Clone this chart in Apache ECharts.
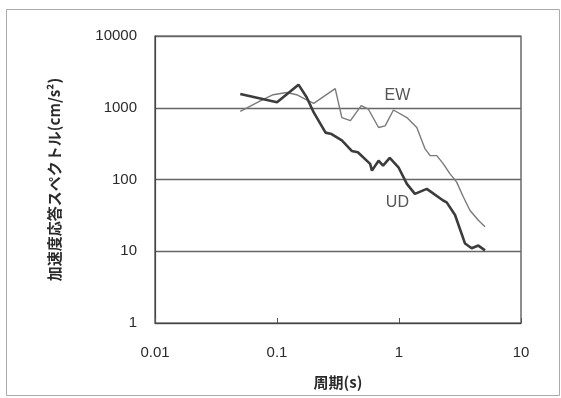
<!DOCTYPE html>
<html><head><meta charset="utf-8">
<script src="https://cdn.jsdelivr.net/npm/echarts@6/dist/echarts.min.js"></script>
<style>html,body{margin:0;padding:0;background:#fff}#c{width:561px;height:398px}</style>
</head><body><div id="c"></div>
<script>
// Period (s) and spectral acceleration (cm/s^2)
const udPeriod = [0.05, 0.1, 0.15, 0.175, 0.2, 0.25, 0.28, 0.34, 0.41, 0.46, 0.58, 0.6, 0.68, 0.74, 0.84, 0.99, 1.16, 1.35, 1.69, 2.3, 2.46, 2.88, 3.48, 3.94, 4.47, 5.07];
const udValue  = [1550, 1190, 2100, 1400, 860, 450, 430, 350, 250, 240, 165, 133, 183, 156, 200, 148, 87, 63, 74, 51, 48, 32, 12.8, 11, 12, 10.3];
const ewPeriod = [0.05, 0.073, 0.093, 0.12, 0.145, 0.17, 0.2, 0.3, 0.34, 0.4, 0.49, 0.56, 0.68, 0.77, 0.9, 1.16, 1.4, 1.63, 1.8, 2.04, 2.31, 2.62, 2.97, 3.37, 3.82, 4.47, 5.07];
const ewValue  = [890, 1250, 1520, 1630, 1520, 1320, 1150, 1850, 730, 660, 1070, 960, 530, 560, 930, 730, 530, 270, 215, 215, 165, 120, 92, 57, 37, 27, 22];
const seriesNames = ['EW', 'UD'];
const xTicks = [0.01, 0.1, 1, 10];
const yTicks = [1, 10, 100, 1000, 10000];
const labelPos = {EW: [0.97, 1500], UD: [0.97, 48]};

const chart = echarts.init(document.getElementById('c'), null, {renderer: 'canvas'});
const font = 'Liberation Sans, Arial, sans-serif';
const zip = (a, b) => a.map((v, i) => [v, b[i]]);
chart.setOption({
  animation: false,
  backgroundColor: '#fff',
  graphic: [{
    type: 'rect', shape: {x: 6.5, y: 9.5, width: 553, height: 386},
    style: {fill: 'none', stroke: '#aaa', lineWidth: 1}, silent: true, z: -1
  }],
  grid: {left: 155, right: 40, top: 36, bottom: 75, show: true, borderColor: '#444', borderWidth: 1.2, backgroundColor: 'transparent'},
  xAxis: {
    type: 'log', logBase: 10, min: xTicks[0], max: xTicks[xTicks.length - 1],
    name: '周期(s)', nameLocation: 'middle', nameGap: 52,
    nameTextStyle: {fontFamily: 'Noto Sans CJK JP', fontSize: 15, fontWeight: 'bold', color: '#2a2a2a'},
    axisLine: {show: true, lineStyle: {color: '#444', width: 1.2}},
    axisTick: {show: true, inside: true, length: 5, lineStyle: {color: '#555'}},
    minorTick: {show: false},
    splitLine: {show: false},
    axisLabel: {color: '#2a2a2a', fontSize: 15, fontFamily: font, margin: 22,
      formatter: v => String(+v.toPrecision(3))}
  },
  yAxis: {
    type: 'log', logBase: 10, min: yTicks[0], max: yTicks[yTicks.length - 1],
    name: '加速度応答スペクトル(cm/s²)', nameLocation: 'middle', nameGap: 93, nameRotate: 90,
    nameTextStyle: {fontFamily: 'Noto Sans CJK JP', fontSize: 15, fontWeight: 'bold', color: '#2a2a2a'},
    axisLine: {show: true, lineStyle: {color: '#444', width: 1.2}},
    axisTick: {show: false},
    splitLine: {show: true, lineStyle: {color: '#666', width: 1.3}},
    axisLabel: {color: '#2a2a2a', fontSize: 15, fontFamily: font, margin: 18,
      formatter: v => String(Math.round(v))}
  },
  series: [
    {
      name: seriesNames[0], type: 'line', data: zip(ewPeriod, ewValue), showSymbol: false,
      lineStyle: {color: '#7a7a7a', width: 1.4}, z: 2,
      markPoint: {symbol: 'rect', symbolSize: 0, silent: true,
        label: {show: true, formatter: seriesNames[0], color: '#555', fontSize: 16, fontFamily: font},
        data: [{coord: labelPos.EW}]}
    },
    {
      name: seriesNames[1], type: 'line', data: zip(udPeriod, udValue), showSymbol: false,
      lineStyle: {color: '#3c3c3c', width: 2.6}, z: 3,
      markPoint: {symbol: 'rect', symbolSize: 0, silent: true,
        label: {show: true, formatter: seriesNames[1], color: '#555', fontSize: 16, fontFamily: font},
        data: [{coord: labelPos.UD}]}
    }
  ]
});
</script></body></html>
